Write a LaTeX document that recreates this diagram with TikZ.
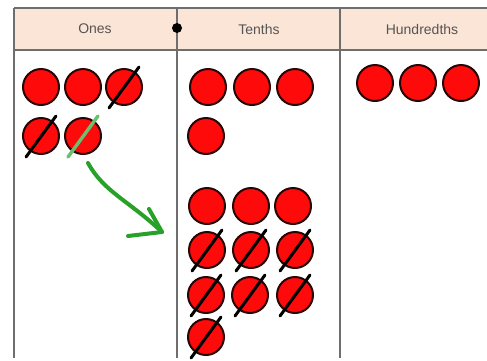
\documentclass[tikz,border=0pt]{standalone}
\usepackage{fontspec}
\setmainfont{Liberation Sans}
\usepackage{xcolor}
\usepackage{tikz}
\usetikzlibrary{calc}
\definecolor{headFill}{HTML}{FBE5D7}
\definecolor{gridGray}{HTML}{6E6E6E}
\definecolor{headText}{HTML}{555555}
\definecolor{counterRed}{HTML}{FF0A0A}
\definecolor{counterEdge}{HTML}{2A0505}
\definecolor{swapGreen}{HTML}{6CBF6C}
\definecolor{arrowGreen}{HTML}{27A127}
\tikzset{
  gridLine/.style={draw=gridGray, line width=1.8pt},
  headLbl/.style={text=headText, font=\fontsize{14}{16}\selectfont},
  counter/.style={circle, draw=counterEdge, fill=counterRed, line width=2pt, minimum size=36pt, inner sep=0pt},
  crossOut/.style={draw=black, line width=3pt, line cap=round},
  swapOut/.style={draw=swapGreen, line width=3.4pt, line cap=round},
  moveArrow/.style={draw=arrowGreen, line width=4pt, line cap=round, line join=round},
}
\newcommand{\CrossCounter}[2][crossOut]{%
  \draw[#1] ($(#2)+(-15,21)$) -- ($(#2)+(15,-20)$);
}

\begin{document}
\begin{tikzpicture}[x=1pt, y=-1pt]
  \useasboundingbox (0,0) rectangle (487,360);

  % place value table
  \fill[headFill] (14,8) rectangle (487,50);
  \draw[gridLine] (14,8) -- (487,8);
  \draw[gridLine] (14,50) -- (487,50);
  \foreach \colx in {14,177,340}
    \draw[gridLine] (\colx,8) -- (\colx,358);
  \fill[black] (177,28) circle (5);

  \node[headLbl] (onesHead)  at (95,29)  {Ones};
  \node[headLbl] (tenthsHead) at (259,29) {Tenths};
  \node[headLbl] (hundHead)  at (422,29) {Hundredths};

  % ones
  \node[counter] (o1) at (41,87)  {};
  \node[counter] (o2) at (83,87)  {};
  \node[counter] (o3) at (124,87) {};
  \node[counter] (o4) at (41,136) {};
  \node[counter] (o5) at (83,136) {};
  \CrossCounter{o3}
  \CrossCounter{o4}
  \CrossCounter[swapOut]{o5}

  % tenths
  \node[counter] (t1) at (208,87)  {};
  \node[counter] (t2) at (252,87)  {};
  \node[counter] (t3) at (295,87)  {};
  \node[counter] (t4) at (206,136) {};

  \foreach \i/\px/\py in {1/207/206, 2/251/206, 3/293/206,
                          4/207/250, 5/251/250, 6/295/250,
                          7/206/295, 8/250/295, 9/295/295,
                          10/206/337}
    \node[counter] (x\i) at (\px,\py) {};
  \foreach \i in {4,...,10}
    {\CrossCounter{x\i}}

  % hundredths
  \node[counter] (h1) at (375,83) {};
  \node[counter] (h2) at (418,83) {};
  \node[counter] (h3) at (461,83) {};

  % exchange arrow
  \coordinate (arrowStart) at (88,163);
  \coordinate (arrowTip)   at (162,232);
  \draw[moveArrow] (arrowStart) .. controls (104,192) and (128,200) .. (arrowTip);
  \draw[moveArrow] ($(arrowTip)+(-13,-23)$) -- (arrowTip) -- ($(arrowTip)+(-34,4)$);
\end{tikzpicture}
\end{document}
